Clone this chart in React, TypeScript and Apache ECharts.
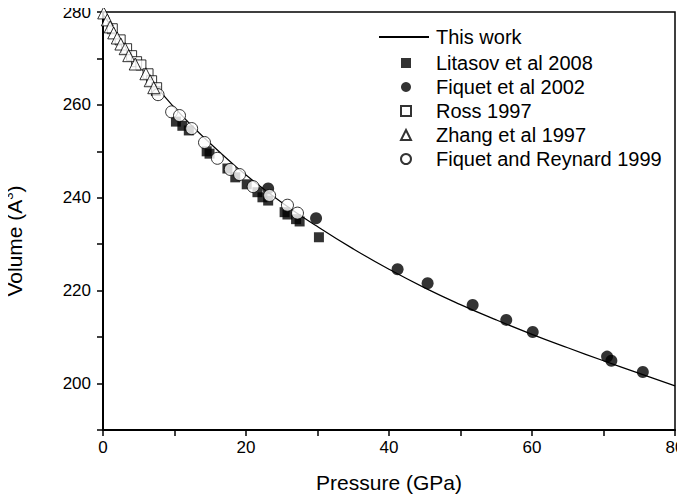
import React, { useEffect, useRef } from "react";
import * as echarts from "echarts";

// "This work" fitted curve: [pressure GPa, volume Å³]
const fitP = [0, 2.5, 5, 7.5, 10, 12.5, 15, 17.5, 20, 25, 30, 35, 40, 45, 50, 55, 60, 65, 70, 75, 80];
const fitV = [279.5, 274.0, 268.7, 263.8, 259.4, 255.4, 251.7, 248.2, 244.9, 239.0, 233.8, 229.0, 224.6, 220.6, 217.0, 213.7, 210.6, 207.7, 204.9, 202.2, 199.5];

const litasovP = [7.4, 10.2, 11.1, 12.0, 14.5, 14.9, 17.4, 18.5, 20.1, 21.6, 22.3, 23.1, 25.4, 25.8, 27.0, 27.5, 30.2];
const litasovV = [263.0, 256.4, 255.5, 254.5, 250.0, 249.5, 246.3, 244.4, 242.9, 241.2, 240.1, 239.4, 236.9, 236.4, 235.4, 234.9, 231.5];

const fiquet02P = [23.1, 29.8, 41.2, 45.4, 51.7, 56.4, 60.1, 70.5, 71.1, 75.5];
const fiquet02V = [242.0, 235.6, 224.6, 221.6, 216.9, 213.7, 211.1, 205.8, 204.9, 202.5];

const rossP = [1.3, 2.4, 3.3, 4.0, 4.7, 5.3, 6.3, 6.8, 7.5];
const rossV = [276.4, 274.0, 272.1, 270.6, 269.3, 268.6, 266.7, 265.2, 263.7];

const zhangP = [0.1, 0.6, 1.0, 1.5, 2.0, 2.5, 3.1, 3.6, 4.5, 6.0, 6.6, 7.1];
const zhangV = [279.8, 278.3, 276.8, 275.5, 274.4, 273.1, 272.1, 270.6, 268.8, 266.7, 265.2, 263.7];

const fr99P = [7.7, 9.6, 10.7, 12.4, 14.2, 16.0, 17.8, 19.1, 21.0, 23.3, 25.8, 27.2];
const fr99V = [262.2, 258.5, 257.7, 254.9, 251.9, 248.5, 246.1, 245.0, 242.4, 240.5, 238.4, 236.7];

const seriesNames = [
  "This work",
  "Litasov et al 2008",
  "Fiquet et al 2002",
  "Ross 1997",
  "Zhang et al 1997",
  "Fiquet and Reynard 1999",
];

const xTicks = { min: 0, max: 80, step: 10, labelStep: 20 };
const yTicks = { min: 190, max: 280, step: 10, labelStep: 20 };

const zip = (a: number[], b: number[]) => a.map((v, i) => [v, b[i]]);

const FONT = "Liberation Sans, Arial, sans-serif";

export default function App() {
  const ref = useRef<HTMLDivElement>(null);
  useEffect(() => {
    if (!ref.current) return;
    const chart = echarts.init(ref.current, undefined, { renderer: "svg" });
    const hollow = { color: "#ffffff", borderColor: "#000000", borderWidth: 1 };
    const filled = { color: "#000000" };
    const legendText = { fontFamily: FONT, fontSize: 20, color: "#000", lineHeight: 24 };
    chart.setOption({
      animation: false,
      backgroundColor: "#ffffff",
      textStyle: { fontFamily: FONT },
      grid: {
        left: 103,
        right: 10,
        top: 12,
        bottom: 73,
        containLabel: false,
        outerBoundsMode: "none",
        show: true,
        borderColor: "#000",
        borderWidth: 1.5,
        backgroundColor: "transparent",
      },
      legend: [
        {
          orient: "vertical",
          left: 378,
          top: 25,
          padding: 0,
          itemWidth: 50,
          itemHeight: 10,
          itemGap: 0,
          itemStyle: { opacity: 0 },
          textStyle: { ...legendText, padding: [0, 0, 0, 2] },
          data: [seriesNames[0]],
        },
        {
          orient: "vertical",
          left: 400,
          top: 51,
          padding: 0,
          itemWidth: 10,
          itemHeight: 10,
          itemGap: 0,
          textStyle: { ...legendText, padding: [0, 0, 0, 20] },
          data: seriesNames.slice(1),
        },
      ],
      xAxis: {
        type: "value",
        min: xTicks.min,
        max: xTicks.max,
        interval: xTicks.step,
        name: "Pressure (GPa)",
        nameLocation: "middle",
        nameGap: 42,
        nameTextStyle: { fontFamily: FONT, fontSize: 21, color: "#000" },
        axisLine: { onZero: false, lineStyle: { color: "#000", width: 2 } },
        axisTick: { show: true, inside: false, length: 6, lineStyle: { color: "#000", width: 1.5 } },
        axisLabel: {
          fontFamily: FONT,
          fontSize: 17,
          color: "#000",
          margin: 9,
          formatter: (v: number) => (v % xTicks.labelStep === 0 ? String(v) : ""),
        },
        splitLine: { show: false },
      },
      yAxis: {
        type: "value",
        min: yTicks.min,
        max: yTicks.max,
        interval: yTicks.step,
        name: "Volume (A{sup|3})",
        nameLocation: "middle",
        nameGap: 76,
        nameTextStyle: {
          fontFamily: FONT,
          fontSize: 21,
          color: "#000",
          padding: [0, 40, 0, 0],
          rich: { sup: { fontFamily: FONT, fontSize: 13, color: "#000", verticalAlign: "top", padding: [0, 0, 12, 0] } },
        },
        axisLine: { onZero: false, lineStyle: { color: "#000", width: 2 } },
        axisTick: { show: true, inside: false, length: 6, lineStyle: { color: "#000", width: 1.5 } },
        axisLabel: {
          fontFamily: FONT,
          fontSize: 17,
          color: "#000",
          margin: 12,
          verticalAlign: "middle",
          formatter: (v: number) => ((v - 200) % yTicks.labelStep === 0 && v >= 200 ? String(v) : ""),
        },
        splitLine: { show: false },
      },
      series: [
        {
          name: seriesNames[0],
          type: "line",
          data: zip(fitP, fitV),
          smooth: true,
          symbol: "none",
          lineStyle: { color: "#000", width: 1.2 },
          itemStyle: { color: "#000" },
          z: 1,
        },
        {
          name: seriesNames[1],
          type: "scatter",
          data: zip(litasovP, litasovV),
          symbol: "rect",
          symbolSize: 10,
          itemStyle: filled,
          z: 3,
        },
        {
          name: seriesNames[2],
          type: "scatter",
          data: zip(fiquet02P, fiquet02V),
          symbol: "circle",
          symbolSize: 12,
          itemStyle: filled,
          z: 3,
        },
        {
          name: seriesNames[3],
          type: "scatter",
          data: zip(rossP, rossV),
          symbol: "rect",
          symbolSize: 10,
          itemStyle: hollow,
          z: 4,
        },
        {
          name: seriesNames[4],
          type: "scatter",
          data: zip(zhangP, zhangV),
          symbol: "triangle",
          symbolSize: 12,
          itemStyle: hollow,
          z: 5,
        },
        {
          name: seriesNames[5],
          type: "scatter",
          data: zip(fr99P, fr99V),
          symbol: "circle",
          symbolSize: 12,
          itemStyle: hollow,
          z: 4,
        },
      ],
    });
    return () => chart.dispose();
  }, []);
  return <div ref={ref} style={{ width: 685, height: 503, margin: -8 }} />;
}
